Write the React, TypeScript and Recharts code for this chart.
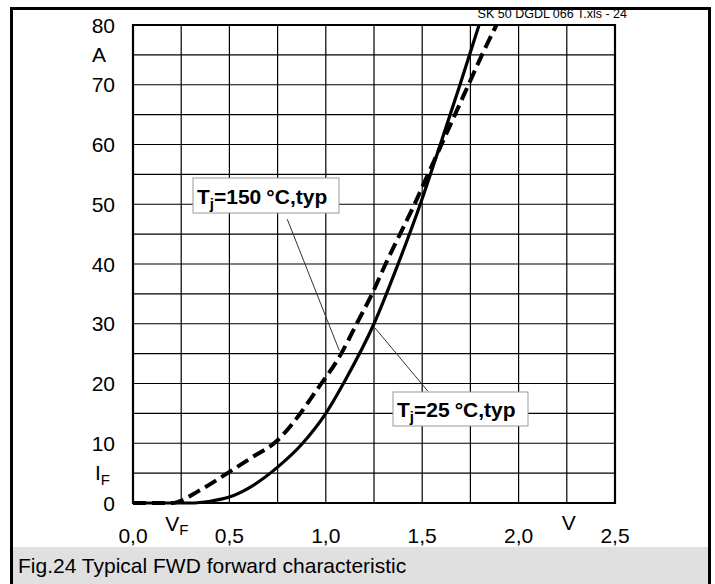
import { LineChart, Line, XAxis, YAxis, CartesianGrid, ReferenceLine, ReferenceArea } from "recharts";

// tick positions and their printed labels
const voltTicks = [0, 0.25, 0.5, 0.75, 1, 1.25, 1.5, 1.75, 2, 2.25, 2.5];
const voltLabels = ["0,0", "V_F", "0,5", "", "1,0", "", "1,5", "", "2,0", "V", "2,5"];
const currentTicks = [0, 5, 10, 15, 20, 25, 30, 35, 40, 45, 50, 55, 60, 65, 70, 75, 80];
const currentLabels = ["0", "I_F", "10", "", "20", "", "30", "", "40", "", "50", "", "60", "", "70", "A", "80"];

// Tj = 25 °C (solid)
const v25 = [0, 0.3, 0.4, 0.5, 0.6, 0.75, 0.88, 1.0, 1.1, 1.25, 1.375, 1.49, 1.594, 1.696, 1.795];
const i25 = [0, 0, 0.3, 1, 2.5, 6, 10, 15, 20.5, 30, 40, 50, 60, 70, 80];

// Tj = 150 °C (dashed)
const v150 = [0, 0.2, 0.35, 0.49, 0.62, 0.75, 0.83, 0.955, 1.08, 1.16, 1.24, 1.31, 1.385, 1.46, 1.53, 1.6, 1.67, 1.74, 1.81, 1.885];
const i150 = [0, 0, 2.2, 5, 7.7, 10.5, 13.4, 19, 25, 30, 35, 40, 45, 50, 55, 60, 65, 70, 75, 80];

const data25 = v25.map((v, k) => ({ v, i: i25[k] }));
const data150 = v150.map((v, k) => ({ v, i: i150[k] }));

const font = "'Liberation Sans', Arial, sans-serif";

const XTick = (props: any) => {
  const { x, y, payload } = props;
  const label = voltLabels[voltTicks.indexOf(payload.value)];
  if (!label) return null;
  if (label === "V_F")
    return (
      <text x={x - 16} y={y + 28} fontSize={21} fontFamily={font} fill="#000">
        V<tspan fontSize={15} dy={4}>F</tspan>
      </text>
    );
  if (label === "V")
    return (
      <text x={x + 2} y={y + 27} fontSize={21} fontFamily={font} fill="#000" textAnchor="middle">
        V
      </text>
    );
  return (
    <text x={x} y={y + 40} fontSize={21} fontFamily={font} fill="#000" textAnchor="middle">
      {label}
    </text>
  );
};

const YTick = (props: any) => {
  const { x, y, payload } = props;
  const label = currentLabels[currentTicks.indexOf(payload.value)];
  if (!label) return null;
  if (label === "I_F")
    return (
      <text x={x - 38} y={y + 7} fontSize={21} fontFamily={font} fill="#000">
        I<tspan fontSize={15} dy={5}>F</tspan>
      </text>
    );
  if (label === "A")
    return (
      <text x={x - 41} y={y + 7.5} fontSize={21} fontFamily={font} fill="#000">
        A
      </text>
    );
  return (
    <text x={x - 18} y={y + 7.5} fontSize={21} fontFamily={font} fill="#000" textAnchor="end">
      {label}
    </text>
  );
};

export default function App() {
  return (
    <div style={{ position: "absolute", left: 0, top: 0, width: 715, height: 584, background: "#fff" }}>
      <LineChart width={715} height={584} margin={{ top: 25, right: 100, bottom: 0, left: 0 }}>
        <CartesianGrid stroke="#000" strokeWidth={1.2} />
        <XAxis
          dataKey="v"
          type="number"
          domain={[0, 2.5]}
          ticks={voltTicks}
          interval={0}
          height={81}
          tickSize={0}
          tickMargin={0}
          axisLine={false}
          tickLine={false}
          tick={XTick}
          allowDuplicatedCategory={false}
        />
        <YAxis
          type="number"
          domain={[0, 80]}
          ticks={currentTicks}
          interval={0}
          width={133}
          tickSize={0}
          tickMargin={0}
          axisLine={false}
          tickLine={false}
          tick={YTick}
        />
        <ReferenceArea x1={0} x2={2.5} y1={0} y2={80} fill="none" fillOpacity={0} stroke="#000" strokeWidth={2.2} />
        <ReferenceLine segment={[{ x: 0.8, y: 47.5 }, { x: 1.07, y: 25.5 }]} stroke="#333" strokeWidth={1} />
        <ReferenceLine segment={[{ x: 1.255, y: 29.3 }, { x: 1.53, y: 18.7 }]} stroke="#333" strokeWidth={1} />
        <Line
          data={data150}
          dataKey="i"
          type="monotone"
          stroke="#000"
          strokeWidth={4}
          strokeDasharray="13 6"
          dot={false}
          isAnimationActive={false}
        />
        <Line data={data25} dataKey="i" type="monotone" stroke="#000" strokeWidth={3.2} dot={false} isAnimationActive={false} />
      </LineChart>

      <svg width={715} height={584} style={{ position: "absolute", left: 0, top: 0, pointerEvents: "none" }}>
        <rect x={13} y={547} width={695} height={37} fill="#e0e0e0" />
        <rect x={10} y={7} width={701} height={3} fill="#000" />
        <rect x={10} y={7} width={3} height={577} fill="#000" />
        <rect x={708} y={7} width={3} height={577} fill="#000" />
        <text x={627} y={18} fontSize={12.5} fontFamily={font} textAnchor="end" fill="#000">
          SK 50 DGDL 066 T.xls - 24
        </text>
        <text x={18} y={573} fontSize={21} fontFamily={font} fill="#000">
          Fig.24 Typical FWD forward characteristic
        </text>

        <rect x={193} y={178} width={146} height={35} fill="#fff" stroke="#999" strokeWidth={1} />
        <text x={197} y={204} fontSize={21} fontWeight="bold" fontFamily={font} fill="#000">
          T<tspan fontSize={15} dy={5}>j</tspan>
          <tspan dy={-5}>=150</tspan>
          <tspan dx={5}>°C,typ</tspan>
        </text>

        <rect x={393} y={392} width={135} height={34} fill="#fff" stroke="#999" strokeWidth={1} />
        <text x={397} y={417} fontSize={21} fontWeight="bold" fontFamily={font} fill="#000">
          T<tspan fontSize={15} dy={5}>j</tspan>
          <tspan dy={-5}>=25</tspan>
          <tspan dx={5}>°C,typ</tspan>
        </text>
      </svg>
    </div>
  );
}
